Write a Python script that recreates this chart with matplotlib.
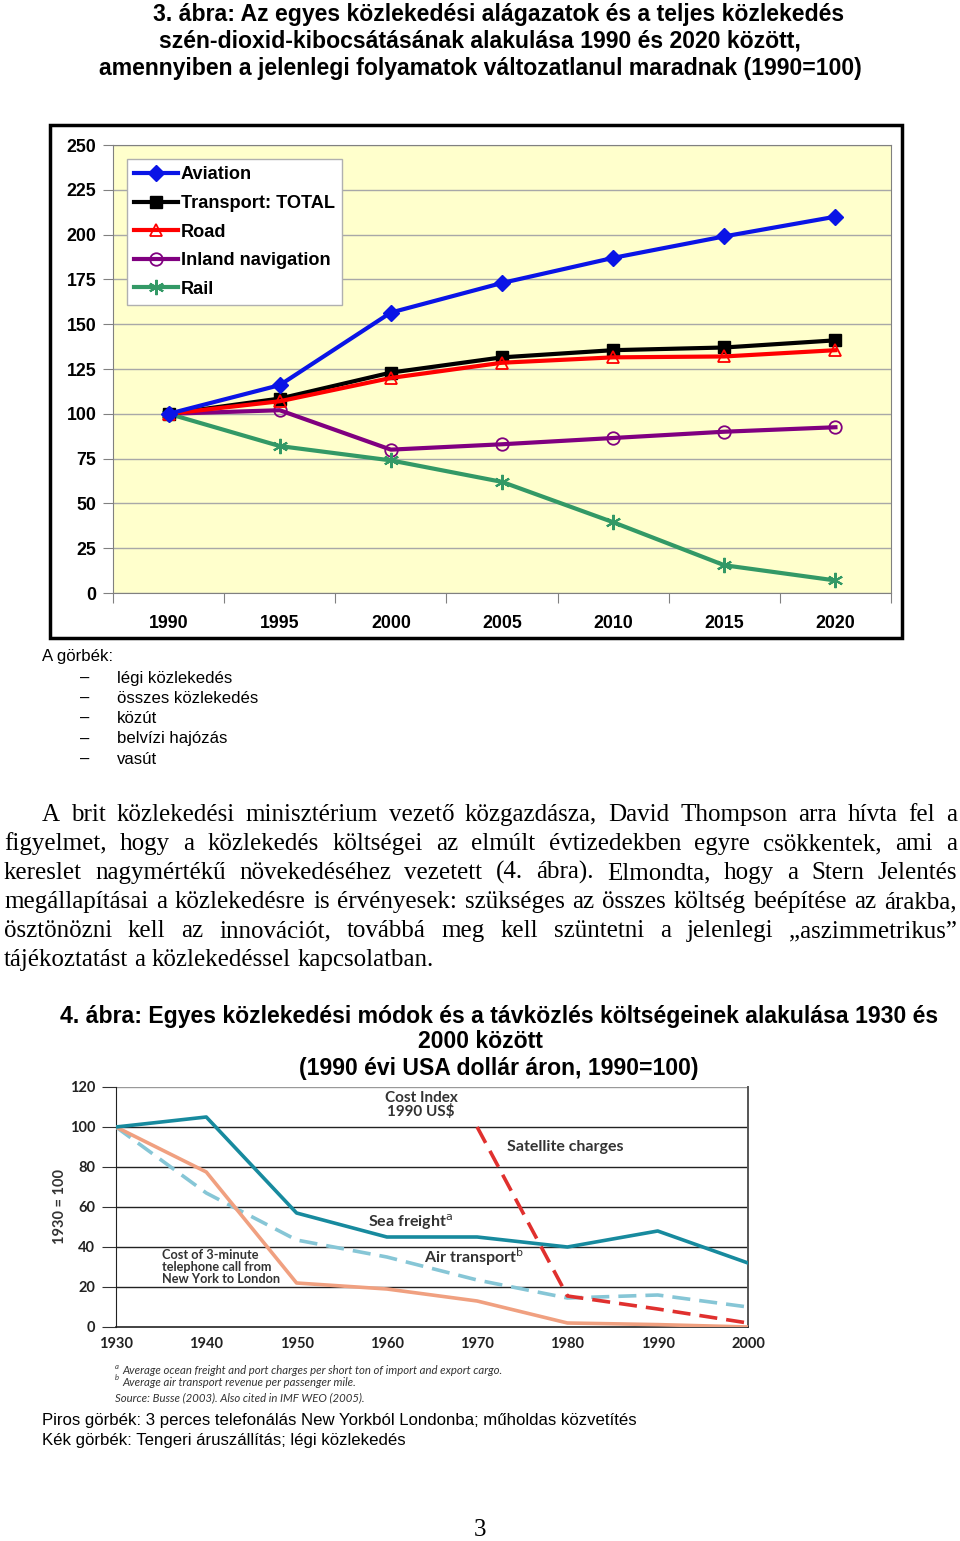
import matplotlib
matplotlib.use("Agg")
import matplotlib.pyplot as plt
from matplotlib.patches import Rectangle

# ---------------- data: chart 1 ----------------
years1 = ['1990', '1995', '2000', '2005', '2010', '2015', '2020']
aviation = [100, 116, 156.5, 173, 187, 199, 210]
total = [100, 108.5, 123, 131.5, 135.5, 137, 141]
road = [100, 107, 120, 128.5, 131.5, 132, 135.5]
inland = [100, 102, 80, 83, 86.5, 90, 92.5]
rail = [100, 82, 74, 62, 39.5, 15.5, 7]
series1_labels = ['Aviation', 'Transport: TOTAL', 'Road', 'Inland navigation', 'Rail']
y1_ticks = [0, 25, 50, 75, 100, 125, 150, 175, 200, 225, 250]

# ---------------- data: chart 2 ----------------
years2 = [1930, 1940, 1950, 1960, 1970, 1980, 1990, 2000]
sea = [100, 105, 57, 45, 45, 40, 48, 32]
air = [100, 67, 43.5, 35, 23.5, 14.5, 16, 10]
phone = [100, 77.5, 22, 19, 13, 2, 1.2, 0]
sat_years = [1970, 1980, 1990, 2000]
sat = [100, 15.5, 9, 2]
y2_ticks = [0, 20, 40, 60, 80, 100, 120]

W, H = 960, 1541
fig = plt.figure(figsize=(W / 100, H / 100), dpi=100)
fig.patch.set_facecolor('white')


def fx(x):
    return x / W


def fy(y):
    return 1 - y / H


def T(x, y, s, **kw):
    kw.setdefault('va', 'center')
    return fig.text(fx(x), fy(y), s, **kw)


SANS = ['Liberation Sans', 'DejaVu Sans']
SERIF = ['Liberation Serif', 'DejaVu Serif']
GILL = ['Lato', 'DejaVu Sans']
TFS = 16.6

# ---------------- title 1 ----------------
t1 = ["3. ábra: Az egyes közlekedési alágazatok és a teljes közlekedés",
      "szén-dioxid-kibocsátásának alakulása 1990 és 2020 között,",
      "amennyiben a jelenlegi folyamatok változatlanul maradnak (1990=100)"]
for s, y, x in zip(t1, [14, 41, 68], [499, 480, 480]):
    T(x, y, s, ha='center', fontsize=TFS, fontweight='bold', family=SANS)

# outer frame of chart 1
fig.patches.append(Rectangle((fx(50), fy(638)), 852 / W, 513 / H,
                             transform=fig.transFigure, fill=False,
                             lw=2.5, ec='black', zorder=0))

l, r, t, b = 113, 891, 145, 593
ax1 = fig.add_axes([fx(l), fy(b), (r - l) / W, (b - t) / H])
ax1.set_facecolor('#FFFFCC')
xs = list(range(len(years1)))
ax1.plot(xs, aviation, color='#0A14E6', lw=3, marker='D', ms=8,
         mfc='#0A14E6', mec='#0A14E6', label=series1_labels[0], zorder=5)
ax1.plot(xs, total, color='black', lw=3, marker='s', ms=9,
         mfc='black', mec='black', label=series1_labels[1], zorder=4)
ax1.plot(xs, road, color='#FF0000', lw=3, marker='^', ms=9,
         mfc='none', mec='#FF0000', mew=1.3, label=series1_labels[2], zorder=4)
ax1.plot(xs, inland, color='#800080', lw=3, marker='o', ms=9,
         mfc='none', mec='#800080', mew=1.3, label=series1_labels[3], zorder=3)
ax1.plot(xs, rail, color='#339966', lw=3, marker=(6, 2, 0), ms=11,
         mec='#339966', mew=1.5, label=series1_labels[4], zorder=3)
ax1.set_xlim(-0.5, len(years1) - 0.5)
ax1.set_ylim(0, 250)
ax1.set_yticks(y1_ticks)
ax1.set_yticklabels([str(v) for v in y1_ticks], fontsize=12.8,
                    fontweight='bold', family=SANS)
ax1.yaxis.grid(True, color='#A8A8A8', lw=1)
ax1.set_axisbelow(True)
ax1.set_xticks([i - 0.5 for i in range(len(years1) + 1)])
ax1.set_xticklabels([])
ax1.set_xticks(xs, minor=True)
ax1.set_xticklabels(years1, minor=True, fontsize=12.8, fontweight='bold',
                    family=SANS)
ax1.tick_params(axis='x', which='major', length=7, color='#808080',
                direction='out')
ax1.tick_params(axis='x', which='minor', length=0, pad=16)
ax1.tick_params(axis='y', length=7, color='#808080', pad=5)
for sp in ['top', 'right', 'left', 'bottom']:
    ax1.spines[sp].set_color('#808080')
leg = ax1.legend(loc='upper left', bbox_to_anchor=(fx(127), fy(159)),
                 bbox_transform=fig.transFigure, borderaxespad=0,
                 frameon=True, fancybox=False, framealpha=1,
                 edgecolor='#B0B0B0', handlelength=2.4, handletextpad=0.15,
                 labelspacing=0.64, borderpad=0.4,
                 prop={'family': SANS, 'weight': 'bold', 'size': 13.1})
leg.get_frame().set_linewidth(1)

# ---------------- list below chart 1 ----------------
LFS = 12.1
T(42, 657, "A görbék:", fontsize=LFS, family=SANS)
items = ["légi közlekedés", "összes közlekedés", "közút",
         "belvízi hajózás", "vasút"]
for i, s in enumerate(items):
    y = 678 + i * 20.3
    T(80, y, "–", fontsize=LFS, family=SANS)
    T(117, y, s, fontsize=LFS, family=SANS)

# ---------------- justified paragraph ----------------
BFS = 18
para = ["A brit közlekedési minisztérium vezető közgazdásza, David Thompson arra hívta fel a",
        "figyelmet, hogy a közlekedés költségei az elmúlt évtizedekben egyre csökkentek, ami a",
        "kereslet nagymértékű növekedéséhez vezetett (4. ábra). Elmondta, hogy a Stern Jelentés",
        "megállapításai a közlekedésre is érvényesek: szükséges az összes költség beépítése az árakba,",
        "ösztönözni kell az innovációt, továbbá meg kell szüntetni a jelenlegi „aszimmetrikus”",
        "tájékoztatást a közlekedéssel kapcsolatban."]
renderer = fig.canvas.get_renderer()
sp = fig.text(0, 0, 'a a', fontsize=BFS, family=SERIF)
aw = fig.text(0, 0, 'aa', fontsize=BFS, family=SERIF)
space_w = sp.get_window_extent(renderer).width - aw.get_window_extent(renderer).width
sp.remove()
aw.remove()
for i, line in enumerate(para):
    words = line.split(' ')
    y = 821 + i * 29
    x0 = 42 if i == 0 else 4
    x1 = 957
    txts = [fig.text(0, 0, w, fontsize=BFS, family=SERIF, va='baseline')
            for w in words]
    widths = [tt.get_window_extent(renderer).width for tt in txts]
    if i == len(para) - 1:
        gap = space_w
    else:
        gap = (x1 - x0 - sum(widths)) / (len(words) - 1)
    x = x0
    for tt, w in zip(txts, widths):
        tt.set_position((fx(x), fy(y)))
        x += w + gap

# ---------------- title 2 ----------------
T(499, 1016, "4. ábra: Egyes közlekedési módok és a távközlés költségeinek alakulása 1930 és",
  ha='center', fontsize=TFS, fontweight='bold', family=SANS)
T(480, 1042, "2000 között", ha='center', fontsize=TFS, fontweight='bold', family=SANS)
T(499, 1068, "(1990 évi USA dollár áron, 1990=100)", ha='center', fontsize=TFS,
  fontweight='bold', family=SANS)

# ---------------- chart 2 ----------------
l, r, t, b = 116, 748, 1087, 1327
ax2 = fig.add_axes([fx(l), fy(b), (r - l) / W, (b - t) / H])
ax2.set_facecolor('white')
ax2.plot(years2, sea, color='#178A9E', lw=2.6, zorder=4)
ax2.plot(years2, air, color='#86C6D6', lw=2.6, ls=(0, (5, 2.5)), zorder=3)
ax2.plot(years2, phone, color='#F0A080', lw=2.6, zorder=3)
ax2.plot(sat_years, sat, color='#E0302E', lw=2.6, ls=(0, (5, 2.5)), zorder=5)
ax2.set_xlim(1930, 2000)
ax2.set_ylim(0, 120)
ax2.set_yticks(y2_ticks)
ax2.set_yticklabels([str(v) for v in y2_ticks], fontsize=10.5,
                    fontweight='bold', family=GILL, color='#222222')
ax2.set_xticks(years2)
ax2.set_xticklabels([str(v) for v in years2], fontsize=10.5, fontweight='bold',
                    family=GILL, color='#222222')
ax2.tick_params(axis='x', length=0, pad=7)
ax2.tick_params(axis='y', length=10, pad=5, color='#333333', width=0.8)
for v in y2_ticks[1:-1]:
    ax2.axhline(v, color='#222222', lw=1, zorder=1)
ax2.axhline(120, color='#999999', lw=1, zorder=1)
ax2.spines['top'].set_visible(False)
ax2.spines['right'].set_color('#555555')
ax2.spines['right'].set_linewidth(1.4)
ax2.spines['left'].set_color('#222222')
ax2.spines['bottom'].set_color('#222222')
ax2.spines['bottom'].set_linewidth(1.2)
ax2.set_ylabel("1930 = 100", fontsize=10.5, fontweight='bold', family=GILL,
               color='#333333', labelpad=2)

c2 = '#333333'
AFS = 11.5
ax2.text(1963.8, 111, "Cost Index\n1990 US$", ha='center', va='center',
         fontsize=11, fontweight='bold', family=GILL, color=c2, linespacing=1.0)
ax2.text(1973.3, 90, "Satellite charges", ha='left', va='center',
         fontsize=AFS, fontweight='bold', family=GILL, color=c2)
ax2.text(1957.9, 52.5, r"Sea freight$^{\mathrm{a}}$", ha='left', va='center',
         fontsize=AFS, fontweight='bold', family=GILL, color=c2)
ax2.text(1964.1, 35, r"Air transport$^{\mathrm{b}}$", ha='left', va='center',
         fontsize=AFS, fontweight='bold', family=GILL, color=c2)
ax2.text(1935.1, 30, "Cost of 3-minute\ntelephone call from\nNew York to London",
         ha='left', va='center', fontsize=9.2, fontweight='bold', family=GILL,
         color=c2, linespacing=1.0)

NFS = 8.2
T(115, 1370, "a", fontsize=5.5, style='italic', family=GILL, color=c2, va='bottom')
T(122, 1371, "Average ocean freight and port charges per short ton of import and export cargo.",
  fontsize=NFS, style='italic', family=GILL, color=c2)
T(115, 1381, "b", fontsize=5.5, style='italic', family=GILL, color=c2, va='bottom')
T(122, 1382, "Average air transport revenue per passenger mile.",
  fontsize=NFS, style='italic', family=GILL, color=c2)
T(115, 1398, "Source: Busse (2003). Also cited in IMF WEO (2005).",
  fontsize=NFS, style='italic', family=GILL, color=c2)

# ---------------- captions ----------------
T(42, 1421, "Piros görbék: 3 perces telefonálás New Yorkból Londonba; műholdas közvetítés",
  fontsize=12.1, family=SANS)
T(42, 1441, "Kék görbék: Tengeri áruszállítás; légi közlekedés",
  fontsize=12.1, family=SANS)
T(480, 1530, "3", ha='center', fontsize=18, family=SERIF)

fig.savefig('out.png', dpi=100)
